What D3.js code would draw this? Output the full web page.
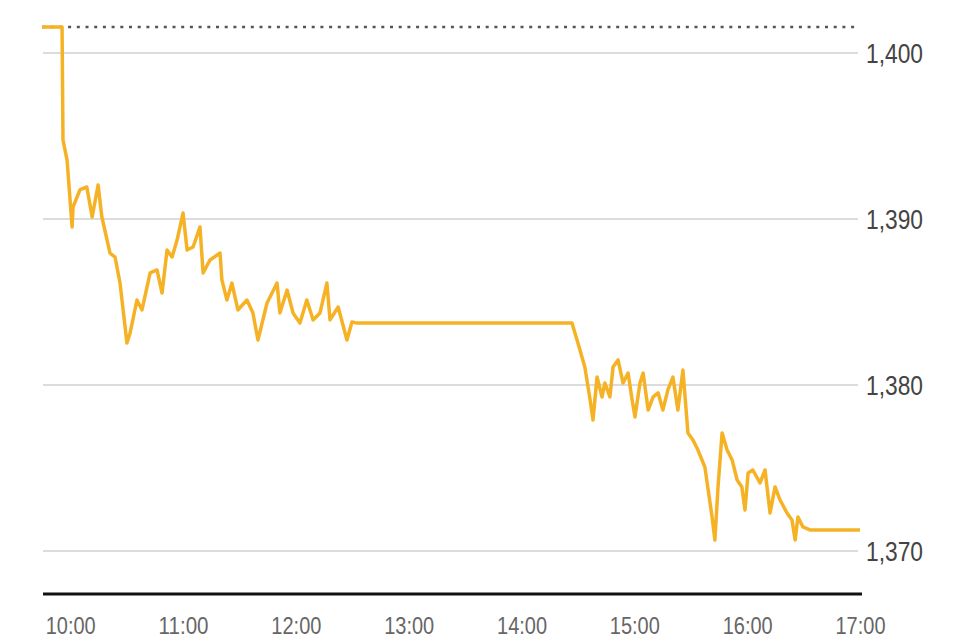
<!DOCTYPE html>
<html>
<head>
<meta charset="utf-8">
<script src="https://cdn.jsdelivr.net/npm/d3@7"></script>
<style>
  html, body { margin: 0; padding: 0; background: #fff; }
  svg { display: block; }
  text { font-family: "Liberation Sans", Arial, sans-serif; }
</style>
</head>
<body>
<svg id="chart" width="955" height="640"></svg>
<script>
// ---- data ----
const times = ["9:45:00","9:55:40","9:56:10","9:58:20","10:01:00","10:01:30","10:05:10","10:08:50","10:11:40","10:14:50",
"10:16:50","10:21:10","10:23:50","10:26:30","10:30:10","10:31:50","10:35:30","10:38:10","10:42:30","10:46:10",
"10:48:50","10:51:30","10:54:10","10:56:50","11:00:00","11:02:10","11:05:20","11:09:00","11:10:40","11:14:20",
"11:19:40","11:20:40","11:23:20","11:26:00","11:29:10","11:34:00","11:37:10","11:39:50","11:44:40","11:50:00",
"11:51:30","11:55:20","11:58:30","12:02:10","12:05:50","12:09:10","12:12:50","12:16:30","12:18:10","12:22:30",
"12:27:10","12:29:50","12:32:30","14:26:50","14:30:00","14:33:40","14:36:30","14:38:00","14:40:10","14:42:50",
"14:44:20","14:47:00","14:48:40","14:51:20","14:54:00","14:56:40","14:58:50","15:00:20","15:03:00","15:04:40",
"15:07:20","15:10:00","15:12:40","15:15:10","15:17:50","15:20:30","15:23:10","15:25:50","15:28:30","15:31:10",
"15:33:50","15:37:30","15:41:20","15:42:50","15:44:30","15:46:40","15:49:20","15:52:00","15:54:40","15:57:10",
"15:58:50","16:00:30","16:03:00","16:06:50","16:09:30","16:12:10","16:14:50","16:17:30","16:21:10","16:23:50",
"16:25:30","16:27:00","16:29:40","16:33:20","17:00:00"];
const values = [1401.57,1401.57,1394.76,1393.55,1389.52,1390.72,1391.75,1391.93,1390.12,1392.05,
1390.12,1387.95,1387.71,1386.14,1382.53,1383.13,1385.12,1384.52,1386.75,1386.93,
1385.54,1388.13,1387.71,1388.73,1390.36,1388.13,1388.31,1389.52,1386.75,1387.53,
1387.95,1386.33,1385.12,1386.14,1384.52,1385.12,1384.34,1382.71,1384.94,1386.14,
1384.34,1385.72,1384.34,1383.73,1385.12,1383.92,1384.34,1386.14,1383.92,1384.70,
1382.71,1383.80,1383.73,1383.73,1382.53,1381.08,1379.10,1377.89,1380.48,1379.28,
1380.12,1379.28,1381.08,1381.51,1380.12,1380.72,1379.10,1378.07,1380.12,1380.72,
1378.49,1379.28,1379.52,1378.49,1379.70,1380.48,1378.49,1380.90,1377.11,1376.69,
1376.08,1375.06,1372.05,1370.66,1373.86,1377.11,1376.08,1375.48,1374.28,1373.86,
1372.47,1374.70,1374.88,1374.10,1374.88,1372.29,1373.86,1373.07,1372.29,1371.87,
1370.66,1372.05,1371.45,1371.27,1371.27];
const prevClose = 1401.57;
const yTicks = [1370, 1380, 1390, 1400];
const xTickLabels = ["10:00","11:00","12:00","13:00","14:00","15:00","16:00","17:00"];

// ---- drawing ----
const parse = d3.timeParse("%H:%M:%S");
const parseHM = d3.timeParse("%H:%M");
const data = times.map((t, i) => ({ t: parse(t), v: values[i] }));

const svg = d3.select("#chart");
const x = d3.scaleTime()
  .domain([parse("9:45:00"), parse("17:00:00")])
  .range([42, 860]);
const y = d3.scaleLinear().domain([1370, 1400]).range([551, 53]);

// gridlines
svg.append("g").selectAll("line").data(yTicks).join("line")
  .attr("x1", 43).attr("x2", 858)
  .attr("y1", d => y(d)).attr("y2", d => y(d))
  .attr("stroke", "#dcdcdc").attr("stroke-width", 2);

// y labels
svg.append("g").selectAll("text").data(yTicks).join("text")
  .attr("x", 866).attr("y", d => y(d))
  .attr("dy", "0.36em")
  .attr("font-size", 28)
  .attr("fill", "#444")
  .attr("textLength", 57).attr("lengthAdjust", "spacingAndGlyphs")
  .text(d3.format(",")) ;

// previous close dotted line
svg.append("line")
  .attr("x1", 42).attr("x2", 858)
  .attr("y1", y(prevClose)).attr("y2", y(prevClose))
  .attr("stroke", "#555").attr("stroke-width", 2.5)
  .attr("stroke-dasharray", "3,5.7");

// price line
const line = d3.line().x(d => x(d.t)).y(d => y(d.v));
svg.append("path").datum(data)
  .attr("d", line)
  .attr("fill", "none")
  .attr("stroke", "#F6B225")
  .attr("stroke-width", 3.5)
  .attr("stroke-linejoin", "round");

// x axis
const xAxis = d3.axisBottom(x)
  .tickValues(xTickLabels.map(s => parseHM(s)))
  .tickFormat(d3.timeFormat("%H:%M"))
  .tickSize(0).tickPadding(23);
const gx = svg.append("g").attr("transform", "translate(0,594)").call(xAxis);
gx.select(".domain").remove();
svg.append("line").attr("x1", 43).attr("x2", 862).attr("y1", 594).attr("y2", 594)
  .attr("stroke", "#111").attr("stroke-width", 3);
gx.selectAll("text")
  .attr("font-size", 24)
  .attr("font-family", "Liberation Sans, Arial, sans-serif")
  .attr("fill", "#666")
  .attr("textLength", 50).attr("lengthAdjust", "spacingAndGlyphs");
</script>
</body>
</html>
